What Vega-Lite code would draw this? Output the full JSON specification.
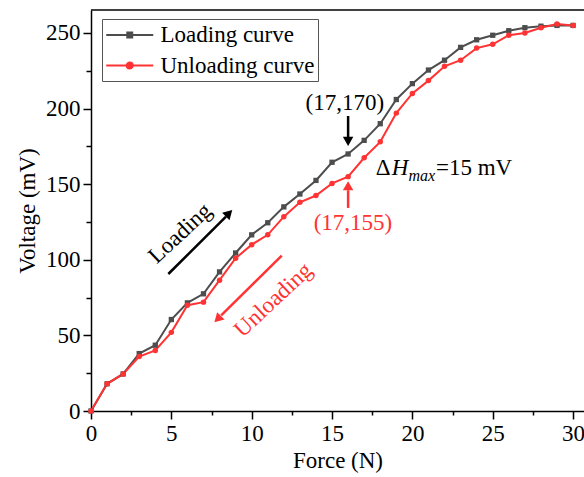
{
  "$schema": "https://vega.github.io/schema/vega-lite/v6.json",
  "width": 493,
  "height": 401,
  "autosize": "none",
  "padding": {"left": 91, "top": 10, "right": 0, "bottom": 66},
  "config": {
    "view": {"stroke": null},
    "font": "Liberation Serif",
    "axis": {
      "grid": false,
      "domainColor": "black",
      "domainWidth": 1.5,
      "tickColor": "black",
      "tickWidth": 1.5,
      "labelFont": "Liberation Serif",
      "labelFontSize": 23,
      "labelColor": "black",
      "titleFont": "Liberation Serif",
      "titleFontSize": 23,
      "titleFontWeight": "normal",
      "titleColor": "black",
      "labelPadding": 3
    }
  },
  "datasets": {
    "curves": [
      {"force": 0, "voltage": 0, "series": "Loading curve"},
      {"force": 1, "voltage": 18, "series": "Loading curve"},
      {"force": 2, "voltage": 24.5, "series": "Loading curve"},
      {"force": 3, "voltage": 38, "series": "Loading curve"},
      {"force": 4, "voltage": 43.5, "series": "Loading curve"},
      {"force": 5, "voltage": 60.5, "series": "Loading curve"},
      {"force": 6, "voltage": 71.5, "series": "Loading curve"},
      {"force": 7, "voltage": 77.5, "series": "Loading curve"},
      {"force": 8, "voltage": 92, "series": "Loading curve"},
      {"force": 9, "voltage": 104.5, "series": "Loading curve"},
      {"force": 10, "voltage": 116.5, "series": "Loading curve"},
      {"force": 11, "voltage": 124.5, "series": "Loading curve"},
      {"force": 12, "voltage": 135, "series": "Loading curve"},
      {"force": 13, "voltage": 143.5, "series": "Loading curve"},
      {"force": 14, "voltage": 152.5, "series": "Loading curve"},
      {"force": 15, "voltage": 164.5, "series": "Loading curve"},
      {"force": 16, "voltage": 170, "series": "Loading curve"},
      {"force": 17, "voltage": 179, "series": "Loading curve"},
      {"force": 18, "voltage": 190, "series": "Loading curve"},
      {"force": 19, "voltage": 206, "series": "Loading curve"},
      {"force": 20, "voltage": 216.5, "series": "Loading curve"},
      {"force": 21, "voltage": 225.5, "series": "Loading curve"},
      {"force": 22, "voltage": 232, "series": "Loading curve"},
      {"force": 23, "voltage": 240.5, "series": "Loading curve"},
      {"force": 24, "voltage": 245.5, "series": "Loading curve"},
      {"force": 25, "voltage": 248.5, "series": "Loading curve"},
      {"force": 26, "voltage": 251.5, "series": "Loading curve"},
      {"force": 27, "voltage": 253.5, "series": "Loading curve"},
      {"force": 28, "voltage": 254.5, "series": "Loading curve"},
      {"force": 29, "voltage": 255, "series": "Loading curve"},
      {"force": 30, "voltage": 255, "series": "Loading curve"},
      {"force": 0, "voltage": 0, "series": "Unloading curve"},
      {"force": 1, "voltage": 18, "series": "Unloading curve"},
      {"force": 2, "voltage": 24.5, "series": "Unloading curve"},
      {"force": 3, "voltage": 36, "series": "Unloading curve"},
      {"force": 4, "voltage": 40, "series": "Unloading curve"},
      {"force": 5, "voltage": 52, "series": "Unloading curve"},
      {"force": 6, "voltage": 70, "series": "Unloading curve"},
      {"force": 7, "voltage": 72, "series": "Unloading curve"},
      {"force": 8, "voltage": 86.5, "series": "Unloading curve"},
      {"force": 9, "voltage": 101, "series": "Unloading curve"},
      {"force": 10, "voltage": 110, "series": "Unloading curve"},
      {"force": 11, "voltage": 116.5, "series": "Unloading curve"},
      {"force": 12, "voltage": 128.5, "series": "Unloading curve"},
      {"force": 13, "voltage": 138, "series": "Unloading curve"},
      {"force": 14, "voltage": 142.5, "series": "Unloading curve"},
      {"force": 15, "voltage": 150.5, "series": "Unloading curve"},
      {"force": 16, "voltage": 155, "series": "Unloading curve"},
      {"force": 17, "voltage": 167.5, "series": "Unloading curve"},
      {"force": 18, "voltage": 178, "series": "Unloading curve"},
      {"force": 19, "voltage": 197, "series": "Unloading curve"},
      {"force": 20, "voltage": 210, "series": "Unloading curve"},
      {"force": 21, "voltage": 218.5, "series": "Unloading curve"},
      {"force": 22, "voltage": 228, "series": "Unloading curve"},
      {"force": 23, "voltage": 232, "series": "Unloading curve"},
      {"force": 24, "voltage": 240, "series": "Unloading curve"},
      {"force": 25, "voltage": 242.5, "series": "Unloading curve"},
      {"force": 26, "voltage": 248.5, "series": "Unloading curve"},
      {"force": 27, "voltage": 250, "series": "Unloading curve"},
      {"force": 28, "voltage": 253.5, "series": "Unloading curve"},
      {"force": 29, "voltage": 256, "series": "Unloading curve"},
      {"force": 30, "voltage": 255, "series": "Unloading curve"}
    ]
  },
  "layer": [
    {
      "data": {"values": [{"top": 265.2}]},
      "mark": {"type": "rule", "color": "black", "strokeWidth": 1.5},
      "encoding": {"y": {"field": "top", "type": "quantitative"}}
    },
    {
      "data": {"name": "curves"},
      "mark": {"type": "line", "strokeWidth": 2},
      "encoding": {
        "x": {
          "field": "force", "type": "quantitative",
          "scale": {"domain": [0, 30.68], "nice": false, "zero": false},
          "axis": {
            "title": "Force (N)",
            "values": [0, 2.5, 5, 7.5, 10, 12.5, 15, 17.5, 20, 22.5, 25, 27.5, 30],
            "labelExpr": "datum.value % 5 === 0 ? '' + datum.value : ''",
            "tickSize": {"condition": {"test": "datum.value % 5 === 0", "value": 8}, "value": 4},
            "labelFlush": false,
            "titlePadding": 4
          }
        },
        "y": {
          "field": "voltage", "type": "quantitative",
          "scale": {"domain": [0, 265.2], "nice": false},
          "axis": {
            "title": "Voltage (mV)",
            "values": [0, 25, 50, 75, 100, 125, 150, 175, 200, 225, 250],
            "labelExpr": "datum.value % 50 === 0 ? '' + datum.value : ''",
            "tickSize": {"condition": {"test": "datum.value % 50 === 0", "value": 8}, "value": 5},
            "titlePadding": 6
          }
        },
        "color": {
          "field": "series", "type": "nominal",
          "scale": {"domain": ["Loading curve", "Unloading curve"], "range": ["#4d4d4d", "#ff3333"]},
          "legend": {
            "orient": "none",
            "legendX": 11,
            "legendY": 9,
            "title": null,
            "labelFont": "Liberation Serif",
            "labelFontSize": 23,
            "labelColor": "black",
            "symbolSize": 552,
            "symbolStrokeWidth": 2,
            "padding": 3,
            "rowPadding": 5.5,
            "labelOffset": 29.5,
            "strokeColor": "#555555",
            "fillColor": "white",
            "symbolType": "M-1,0H3",
            "encode": {
              "symbols": {
                "update": {
                  "shape": {"signal": "datum.value === 'Loading curve' ? 'M-1,0H3M0.79,-0.21H1.21V0.21H0.79Z' : 'M-1,0H3M1.26,0A0.26,0.26 0 1 1 0.74,0A0.26,0.26 0 1 1 1.26,0Z'"},
                  "fill": {"scale": "color", "field": "value"}
                }
              }
            }
          }
        }
      }
    },
    {
      "data": {"name": "curves"},
      "transform": [{"filter": "datum.series === 'Loading curve'"}],
      "mark": {"type": "point", "shape": "square", "filled": true, "size": 28, "color": "#4d4d4d", "opacity": 1},
      "encoding": {
        "x": {"field": "force", "type": "quantitative"},
        "y": {"field": "voltage", "type": "quantitative"}
      }
    },
    {
      "data": {"name": "curves"},
      "transform": [{"filter": "datum.series === 'Unloading curve'"}],
      "mark": {"type": "point", "shape": "circle", "filled": true, "size": 30, "color": "#ff3333", "opacity": 1},
      "encoding": {
        "x": {"field": "force", "type": "quantitative"},
        "y": {"field": "voltage", "type": "quantitative"}
      }
    },
    {
      "data": {"values": [
        {"force": 16, "voltage": 195.1, "force2": 16, "voltage2": 180},
        {"force": 4.81, "voltage": 90.6, "force2": 8.4, "voltage2": 128.5}
      ]},
      "mark": {"type": "rule", "color": "black", "strokeWidth": 2.5},
      "encoding": {
        "x": {"field": "force", "type": "quantitative"},
        "y": {"field": "voltage", "type": "quantitative"},
        "x2": {"field": "force2"},
        "y2": {"field": "voltage2"}
      }
    },
    {
      "data": {"values": [
        {"force": 16, "voltage": 134.3, "force2": 16, "voltage2": 146},
        {"force": 11.87, "voltage": 102.7, "force2": 8.1, "voltage2": 63.2}
      ]},
      "mark": {"type": "rule", "color": "#ff3333", "strokeWidth": 2.5},
      "encoding": {
        "x": {"field": "force", "type": "quantitative"},
        "y": {"field": "voltage", "type": "quantitative"},
        "x2": {"field": "force2"},
        "y2": {"field": "voltage2"}
      }
    },
    {
      "data": {"values": [
        {"force": 16, "voltage": 178.3, "dir": 180},
        {"force": 8.59, "voltage": 130.8, "dir": 45}
      ]},
      "mark": {"type": "point", "shape": "triangle-up", "filled": true, "size": 110, "color": "black", "opacity": 1},
      "encoding": {
        "x": {"field": "force", "type": "quantitative"},
        "y": {"field": "voltage", "type": "quantitative"},
        "angle": {"field": "dir", "type": "quantitative", "scale": null}
      }
    },
    {
      "data": {"values": [
        {"force": 16, "voltage": 149, "dir": 0},
        {"force": 7.88, "voltage": 60.8, "dir": 225}
      ]},
      "mark": {"type": "point", "shape": "triangle-up", "filled": true, "size": 110, "color": "#ff3333", "opacity": 1},
      "encoding": {
        "x": {"field": "force", "type": "quantitative"},
        "y": {"field": "voltage", "type": "quantitative"},
        "angle": {"field": "dir", "type": "quantitative", "scale": null}
      }
    },
    {
      "data": {"values": [
        {"force": 15.8, "voltage": 203.4, "label": "(17,170)"}
      ]},
      "mark": {"type": "text", "font": "Liberation Serif", "fontSize": 23, "color": "black", "align": "center", "baseline": "middle"},
      "encoding": {
        "x": {"field": "force", "type": "quantitative"},
        "y": {"field": "voltage", "type": "quantitative"},
        "text": {"field": "label"}
      }
    },
    {
      "data": {"values": [
        {"force": 16.3, "voltage": 124.5, "label": "(17,155)"}
      ]},
      "mark": {"type": "text", "font": "Liberation Serif", "fontSize": 23, "color": "#ff3333", "align": "center", "baseline": "middle"},
      "encoding": {
        "x": {"field": "force", "type": "quantitative"},
        "y": {"field": "voltage", "type": "quantitative"},
        "text": {"field": "label"}
      }
    },
    {
      "data": {"values": [
        {"force": 5.54, "voltage": 117.5, "label": "Loading"}
      ]},
      "mark": {"type": "text", "font": "Liberation Serif", "fontSize": 23, "color": "black", "align": "center", "baseline": "middle", "angle": -43},
      "encoding": {
        "x": {"field": "force", "type": "quantitative"},
        "y": {"field": "voltage", "type": "quantitative"},
        "text": {"field": "label"}
      }
    },
    {
      "data": {"values": [
        {"force": 11.34, "voltage": 73.4, "label": "Unloading"}
      ]},
      "mark": {"type": "text", "font": "Liberation Serif", "fontSize": 23, "color": "#ff3333", "align": "center", "baseline": "middle", "angle": -43},
      "encoding": {
        "x": {"field": "force", "type": "quantitative"},
        "y": {"field": "voltage", "type": "quantitative"},
        "text": {"field": "label"}
      }
    },
    {
      "data": {"values": [
        {"force": 17.72, "voltage": 156.3, "label": "Δ"},
        {"force": 21.47, "voltage": 156.3, "label": "=15 mV"}
      ]},
      "mark": {"type": "text", "font": "Liberation Serif", "fontSize": 23, "color": "black", "align": "left", "baseline": "alphabetic"},
      "encoding": {
        "x": {"field": "force", "type": "quantitative"},
        "y": {"field": "voltage", "type": "quantitative"},
        "text": {"field": "label"}
      }
    },
    {
      "data": {"values": [
        {"force": 18.72, "voltage": 156.3, "label": "H"}
      ]},
      "mark": {"type": "text", "font": "Liberation Serif", "fontSize": 23, "fontStyle": "italic", "color": "black", "align": "left", "baseline": "alphabetic"},
      "encoding": {
        "x": {"field": "force", "type": "quantitative"},
        "y": {"field": "voltage", "type": "quantitative"},
        "text": {"field": "label"}
      }
    },
    {
      "data": {"values": [
        {"force": 19.76, "voltage": 151.9, "label": "max"}
      ]},
      "mark": {"type": "text", "font": "Liberation Serif", "fontSize": 16, "fontStyle": "italic", "color": "black", "align": "left", "baseline": "alphabetic"},
      "encoding": {
        "x": {"field": "force", "type": "quantitative"},
        "y": {"field": "voltage", "type": "quantitative"},
        "text": {"field": "label"}
      }
    }
  ]
}
